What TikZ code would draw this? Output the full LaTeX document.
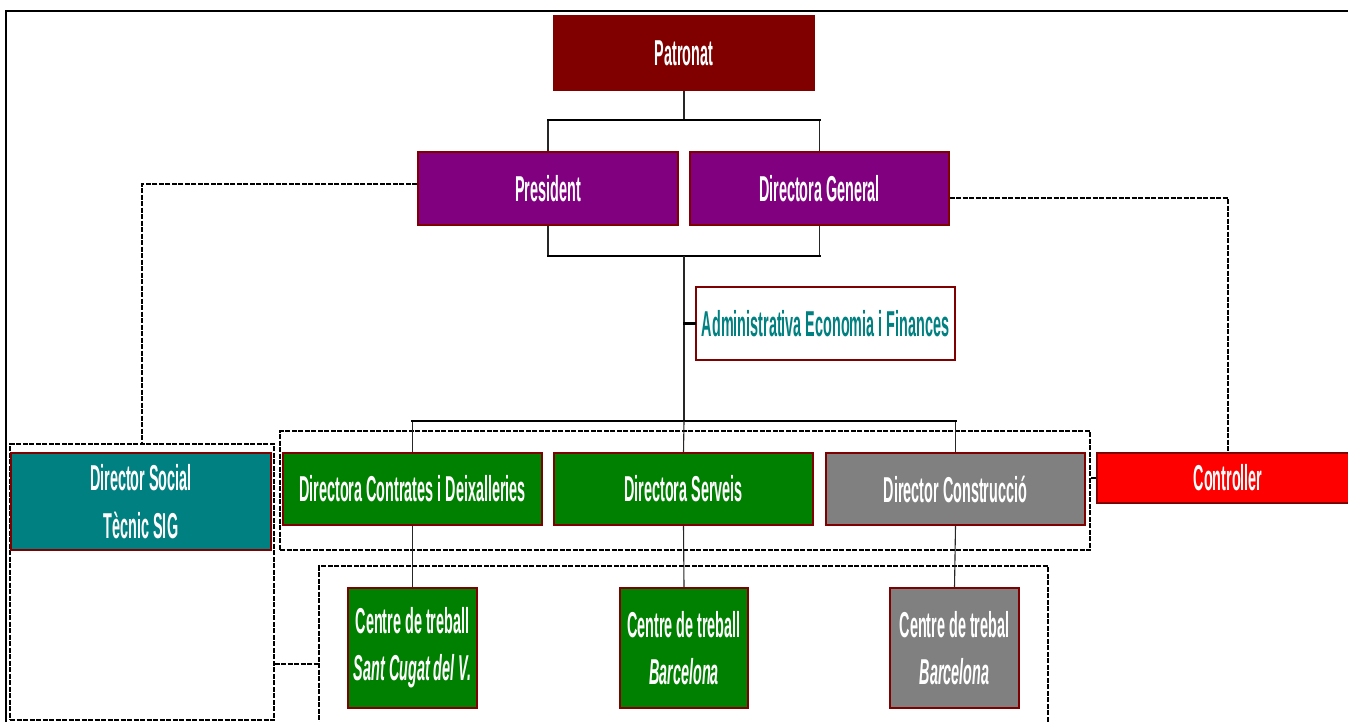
\documentclass[tikz,border=0pt]{standalone}
\usepackage{fontspec}
\newfontfamily\boxfont[FakeStretch=0.4]{Liberation Sans}
\definecolor{maroon}{HTML}{800000}
\definecolor{purp}{HTML}{800080}
\definecolor{tealc}{HTML}{008080}
\definecolor{greenc}{HTML}{008000}
\definecolor{greyc}{HTML}{808080}
\definecolor{redc}{HTML}{FF0000}
\begin{document}
\begin{tikzpicture}[x=1pt,y=-1pt,
  orgbox/.style={draw=maroon, line width=1.3pt, inner sep=0pt, align=center,
    text=white, font=\boxfont\bfseries\fontsize{36}{48}\selectfont},
  conn/.style={draw=black!85, line width=1.1pt},
  busline/.style={draw=black, line width=2.2pt, line cap=rect},
  dl/.style={draw=black, line width=1.1pt, dash pattern=on 5pt off 1.5pt},
  grp/.style={draw=black, line width=1.1pt, dash pattern=on 5pt off 1.5pt, inner sep=0pt}]
\useasboundingbox (0,0) rectangle (1348,722);
\clip (0,0) rectangle (1348,722);
\fill[white] (0,0) rectangle (1348,722);
% outer frame
\draw[line width=2.2pt] (6,740) -- (6,11) -- (1360,11);
% groups
\node[grp, minimum width=810pt, minimum height=119pt] (grp1) at (685,490.5) {};
\node[grp, minimum width=729pt, minimum height=174pt] (grp2) at (683.5,653) {};
\node[grp, minimum width=264pt, minimum height=276pt] (socgrp) at (142,582) {};
% boxes
\node[orgbox, fill=maroon, minimum width=260pt, minimum height=74pt] (patronat) at (684,53) {Patronat};
\node[orgbox, fill=purp, minimum width=260pt, minimum height=73pt] (president) at (548,188.5) {President};
\node[orgbox, fill=purp, minimum width=259pt, minimum height=73pt] (dg) at (819.5,188.5) {Directora General};
\node[orgbox, fill=white, text=tealc, minimum width=259pt, minimum height=73pt] (admin) at (825.5,323.5) {Administrativa Economia i Finances};
\node[orgbox, fill=tealc, minimum width=260pt, minimum height=97pt] (social) at (141,501.5) {Director Social\\Tècnic SIG};
\node[orgbox, fill=greenc, minimum width=259pt, minimum height=72pt] (dcd) at (412.5,489) {Directora Contrates i Deixalleries};
\node[orgbox, fill=greenc, minimum width=259pt, minimum height=72pt] (dserv) at (683.5,489) {Directora Serveis};
\node[orgbox, fill=greyc, minimum width=259pt, minimum height=72pt] (dcon) at (955.5,489) {Director Construcció};
\node[orgbox, fill=redc, minimum width=262pt, minimum height=50pt] (controller) at (1228,478) {Controller};
\node[orgbox, fill=greenc, minimum width=129pt, minimum height=120pt, font=\boxfont\bfseries\fontsize{36}{47}\selectfont] (c1) at (412.5,648) {Centre de treball\\\textit{Sant Cugat del V.}};
\node[orgbox, fill=greenc, minimum width=128pt, minimum height=120pt, font=\boxfont\bfseries\fontsize{36}{47}\selectfont] (c2) at (684,648) {Centre de treball\\\textit{Barcelona}};
\node[orgbox, fill=greyc, minimum width=129pt, minimum height=120pt, font=\boxfont\bfseries\fontsize{36}{47}\selectfont] (c3) at (954.5,648) {Centre de trebal\\\textit{Barcelona}};
% coordinates
\coordinate (bus1) at (684,120);
\coordinate (bus2) at (684,256);
\coordinate (bus3) at (684,421);
% solid connectors
\draw[conn] (patronat.south) -- (bus1);
\draw[conn] (president.north) |- (bus1) -| (dg.north);
\draw[busline] (president.north |- bus1) -- (dg.north |- bus1);
\draw[conn] (president.south) |- (bus2) -| (dg.south);
\draw[busline] (president.south |- bus2) -- (dg.south |- bus2);
\draw[conn] (bus2) -- (bus3);
\draw[busline] (admin.west) -- (admin.west -| bus2);
\draw[conn] (dcd.north) |- (bus3) -| (dcon.north);
\draw[busline] (dcd.north |- bus3) -- (dcon.north |- bus3);
\draw[conn] (bus3) -- (dserv.north);
\draw[conn] (dcd.south) -- (c1.north);
\draw[conn] (dserv.south) -- (c2.north);
\draw[conn] (dcon.south) -- (c3.north);
% dashed connectors
\draw[dl] ([yshift=4.5pt]president.west) -| (socgrp.north);
\draw[dl] ([yshift=-9.5pt]dg.east) -| (controller.north);
\draw[dl] (controller.west) -- (controller.west -| grp1.east);
\draw[dl] ([yshift=-82pt]socgrp.east) -- ([yshift=-82pt]socgrp.east -| grp2.west);
\end{tikzpicture}
\end{document}
